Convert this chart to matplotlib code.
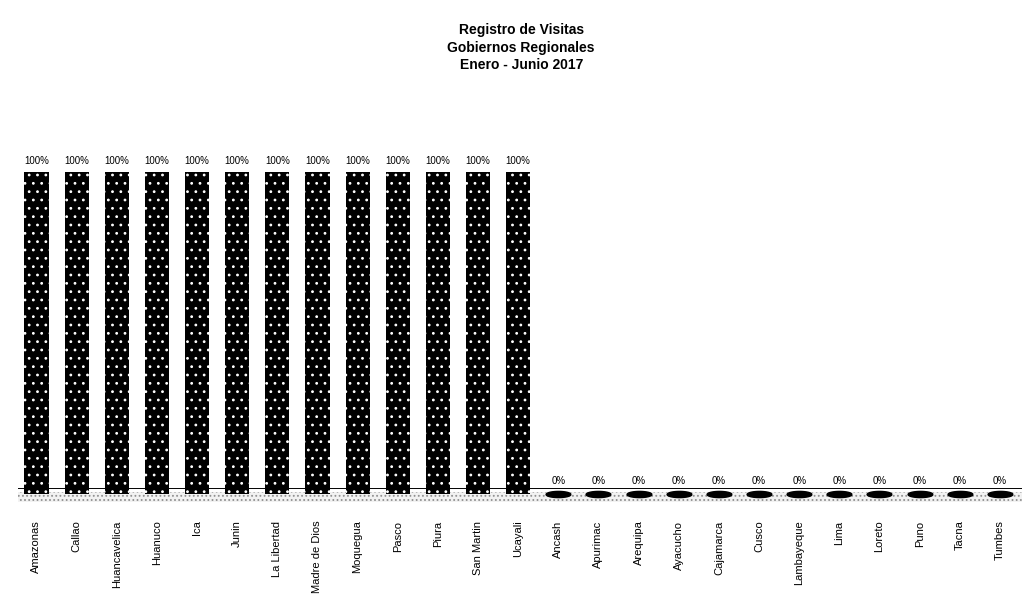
import matplotlib.pyplot as plt
from matplotlib.path import Path
import numpy as np

plt.rcParams['font.family'] = ['Liberation Sans', 'DejaVu Sans']
plt.rcParams['hatch.linewidth'] = 0.8

regiones = ['Amazonas', 'Callao', 'Huancavelica', 'Huanuco', 'Ica', 'Junin',
            'La Libertad', 'Madre de Dios', 'Moquegua', 'Pasco', 'Piura',
            'San Martin', 'Ucayali', 'Ancash', 'Apurimac', 'Arequipa',
            'Ayacucho', 'Cajamarca', 'Cusco', 'Lambayeque', 'Lima', 'Loreto',
            'Puno', 'Tacna', 'Tumbes']
porcentaje = [1, 1, 1, 1, 1, 1, 1, 1, 1, 1, 1, 1, 1,
              0, 0, 0, 0, 0, 0, 0, 0, 0, 0, 0, 0]
etiquetas = ['100%'] * 13 + ['0%'] * 12

fig = plt.figure(figsize=(10.22, 6.16), dpi=100)
ax = fig.add_axes([0.018, 0.182, 0.982, 0.601])

x = np.arange(len(regiones))

# piso del grafico 3D (punteado gris)
ax.axhspan(-0.025, 0.006, facecolor='#f2f2f2', edgecolor='#909090',
           hatch='....', lw=0, zorder=0)
ax.axhline(0.02, color='black', lw=0.7, zorder=1)

ax.bar(x, porcentaje, width=0.6, color='black', edgecolor='white',
       linewidth=0, hatch='..', zorder=3)

# barras de 0% se ven como discos planos
ceros = [i for i, v in enumerate(porcentaje) if v == 0]
t = np.linspace(0, 2 * np.pi, 40)
elipse = Path(np.column_stack([np.cos(t), 0.25 * np.sin(t)]))
ax.scatter(ceros, [porcentaje[i] for i in ceros], marker=elipse, s=320,
           color='black', zorder=3)

for xi, v, et in zip(x, porcentaje, etiquetas):
    ax.text(xi, v + (0.02 if v > 0 else 0.025), et, ha='center', va='bottom',
            fontsize=7)

ax.set_xlim(-0.45, 24.55)
ax.set_ylim(-0.03, 1.12)
ax.set_xticks(x)
ax.set_xticklabels(regiones, rotation=90, fontsize=8)
ax.tick_params(axis='x', length=0, pad=12)
ax.set_yticks([])
for s in ax.spines.values():
    s.set_visible(False)

fig.text(0.51, 0.962, 'Registro de Visitas\nGobiernos Regionales\nEnero - Junio 2017',
         ha='center', va='top', fontsize=10, fontweight='bold', linespacing=1.3)

plt.savefig('out.png', dpi=100)
